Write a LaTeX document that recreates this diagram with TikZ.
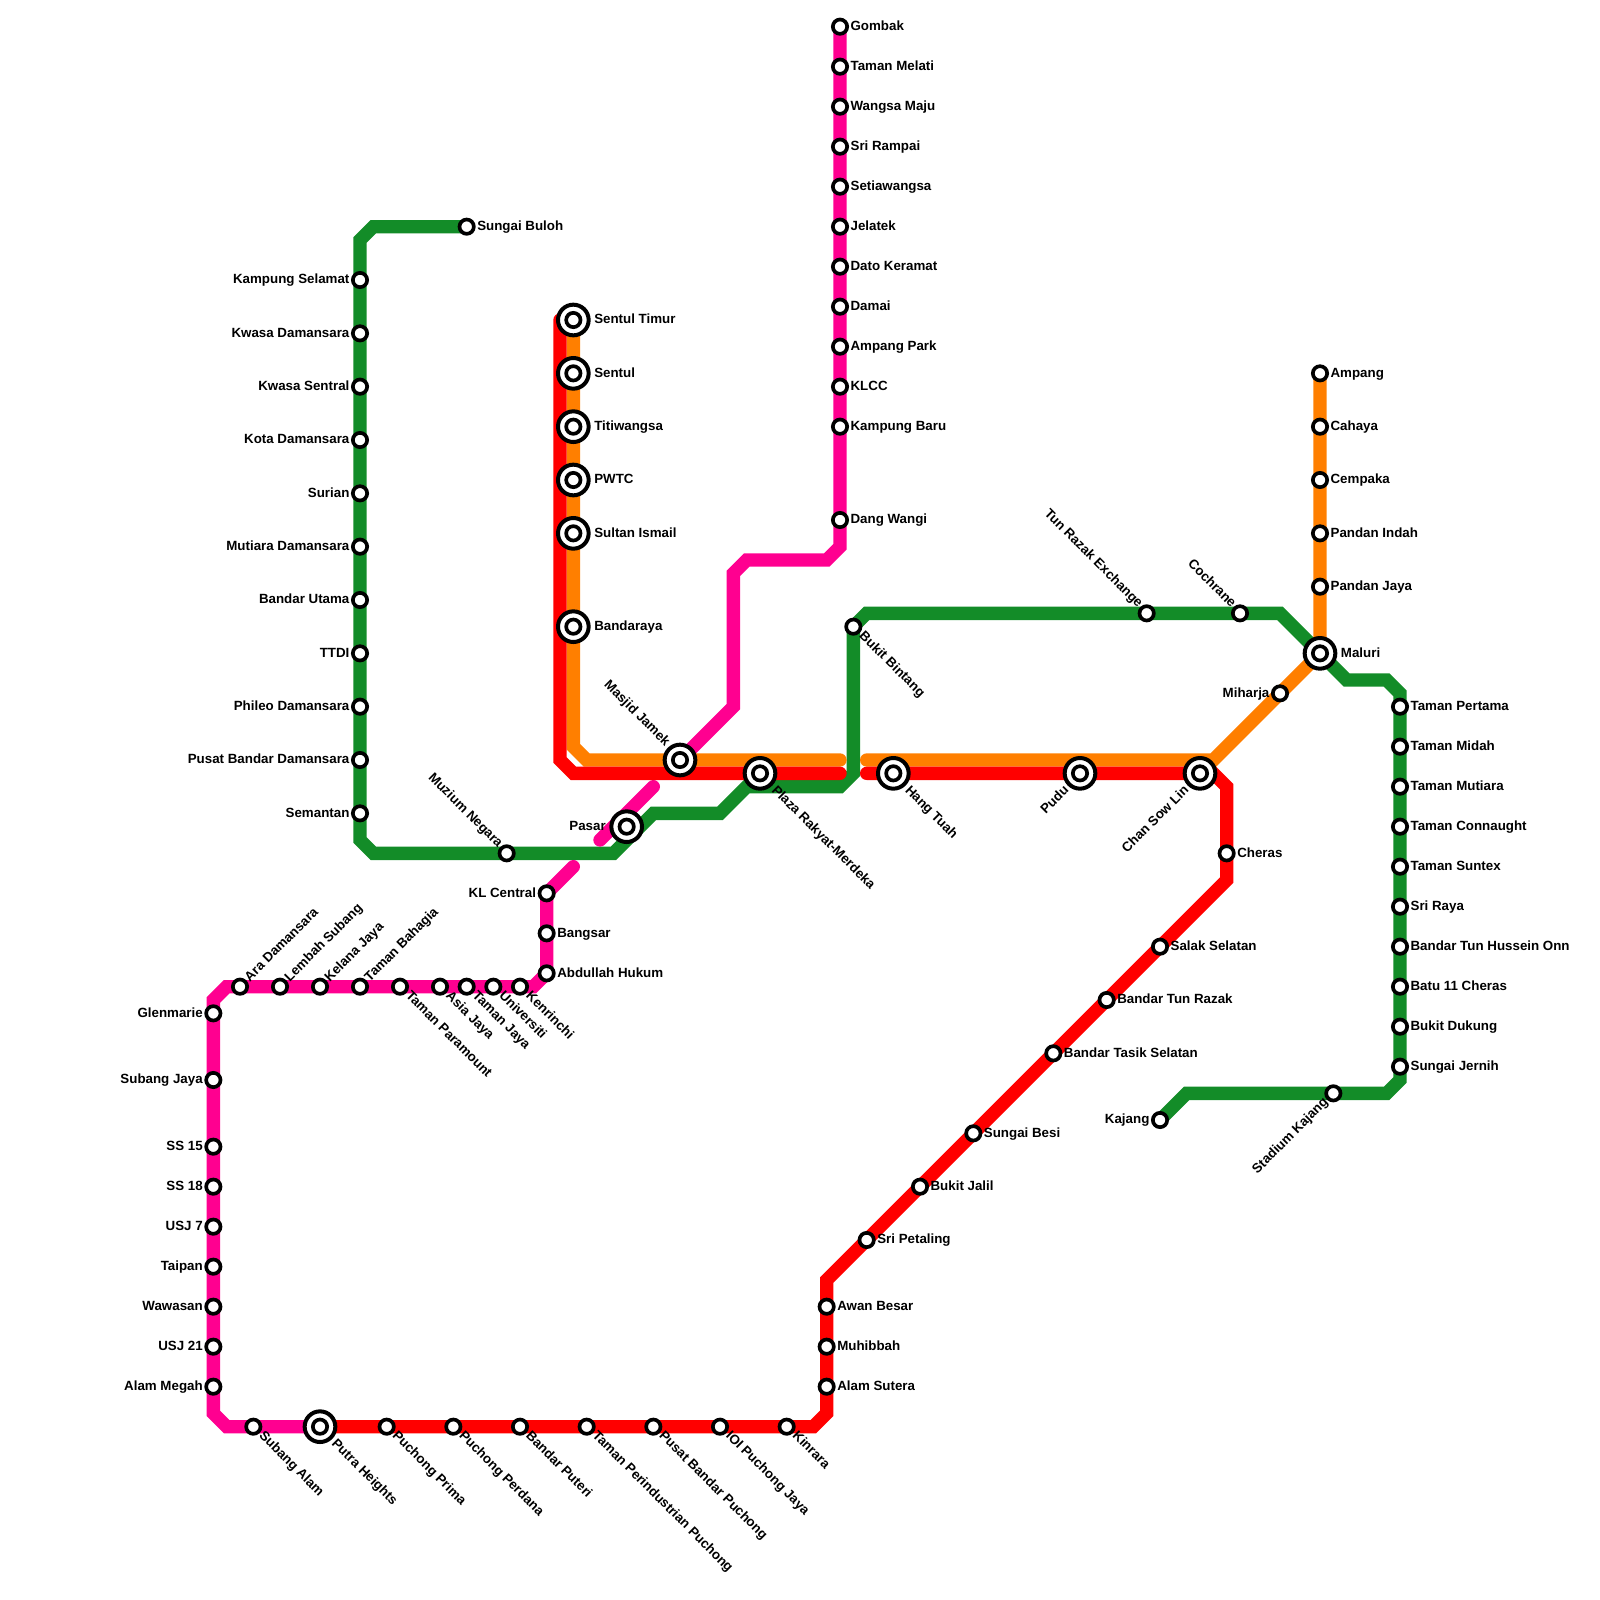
\documentclass[tikz,border=0pt]{standalone}
\usepackage{fontspec}
\setmainfont{Liberation Sans}
\usepackage{xcolor}
\usetikzlibrary{backgrounds}
\definecolor{lnGreen}{HTML}{138C28}
\definecolor{lnMagenta}{HTML}{FF0090}
\definecolor{lnOrange}{HTML}{FF7F00}
\definecolor{lnRed}{HTML}{FF0000}
\begin{document}
\begin{tikzpicture}[
    x=10pt, y=-10pt,
    label distance=1pt,
    line/.style={line width=10pt, line cap=round, miter limit=4},
    stn/.style={circle, draw=black, fill=white, line width=2.75pt, minimum size=10.75pt, inner sep=0pt},
    xstn/.style={circle, draw=black, fill=white, line width=3pt, minimum size=23pt, inner sep=0pt},
    lbl/.style={font=\bfseries\fontsize{10}{11}\selectfont, inner sep=0pt, text height=7pt, text depth=1.5pt},
    lblE/.style={label={[lbl, anchor=west]0:#1}},
    lblW/.style={label={[lbl, anchor=east]180:#1}},
    lblSE/.style={label={[lbl, anchor=west, xshift=1pt, yshift=0.5pt, rotate=-45]-45:#1}},
    lblNE/.style={label={[lbl, anchor=west, xshift=0.5pt, yshift=-0.5pt, rotate=45]45:#1}},
    lblNW/.style={label={[lbl, anchor=east, rotate=-45]135:#1}},
    lblSW/.style={label={[lbl, anchor=east, xshift=-0.5pt, yshift=0.5pt, rotate=45]225:#1}}
]
\useasboundingbox (0,0) rectangle (120,120);

% interchange stations
\begin{scope}[label distance=2.5pt]
\foreach \nm/\px/\py/\lab/\txt in {sentultimur/43/24/lblE/Sentul Timur, sentul/43/28/lblE/Sentul, titiwangsa/43/32/lblE/Titiwangsa,
    pwtc/43/36/lblE/PWTC, sultanismail/43/40/lblE/Sultan Ismail, bandaraya/43/47/lblE/Bandaraya, maluri/99/49/lblE/Maluri,
    masjidjamek/51/57/lblNW/Masjid Jamek, pasar/47/62/lblW/Pasar, plaza/57/58/lblSE/Plaza Rakyat-Merdeka,
    hangtuah/67/58/lblSE/Hang Tuah, pudu/81/58/lblSW/Pudu, chansowlin/90/58/lblSW/Chan Sow Lin, putraheights/24/107/lblSE/Putra Heights} {
    \node[xstn, \lab=\txt] (\nm) at (\px,\py) {};
    \node[stn] (\nm-in) at (\nm) {};
}
\end{scope}

% green line
\node[stn, lblE=Sungai Buloh] (sungaibuloh) at (35,17) {};
\foreach \nm/\py/\txt in {kgselamat/21/Kampung Selamat, kwasadamansara/25/Kwasa Damansara, kwasasentral/29/Kwasa Sentral,
    kotadamansara/33/Kota Damansara, surian/37/Surian, mutiara/41/Mutiara Damansara, bandarutama/45/Bandar Utama,
    ttdi/49/TTDI, phileo/53/Phileo Damansara, pusatbandar/57/Pusat Bandar Damansara, semantan/61/Semantan}
    \node[stn, lblW=\txt] (\nm) at (27,\py) {};
\node[stn, lblNW=Muzium Negara] (muzium) at (38,64) {};
\node[stn, lblSE=Bukit Bintang] (bukitbintang) at (64,47) {};
\node[stn, lblNW=Tun Razak Exchange] (tunrazak) at (86,46) {};
\node[stn, lblNW=Cochrane] (cochrane) at (93,46) {};
\foreach \nm/\py/\txt in {pertama/53/Taman Pertama, midah/56/Taman Midah, mutiaracheras/59/Taman Mutiara, connaught/62/Taman Connaught,
    suntex/65/Taman Suntex, sriraya/68/Sri Raya, hussein/71/Bandar Tun Hussein Onn, batu11/74/Batu 11 Cheras,
    dukung/77/Bukit Dukung, jernih/80/Sungai Jernih}
    \node[stn, lblE=\txt] (\nm) at (105,\py) {};
\node[stn, lblSW=Stadium Kajang] (stadium) at (100,82) {};
\node[stn, lblW=Kajang] (kajang) at (87,84) {};

% magenta line
\foreach \nm/\py/\txt in {gombak/2/Gombak, melati/5/Taman Melati, wangsa/8/Wangsa Maju, rampai/11/Sri Rampai, setiawangsa/14/Setiawangsa,
    jelatek/17/Jelatek, keramat/20/Dato Keramat, damai/23/Damai, ampangpark/26/Ampang Park, klcc/29/KLCC, kgbaru/32/Kampung Baru, dangwangi/39/Dang Wangi}
    \node[stn, lblE=\txt] (\nm) at (63,\py) {};
\node[stn, lblW=KL Central] (klcentral) at (41,67) {};
\node[stn, lblE=Bangsar] (bangsar) at (41,70) {};
\node[stn, lblE=Abdullah Hukum] (abdullah) at (41,73) {};
\foreach \nm/\px/\lab/\txt in {ara/18/lblNE/Ara Damansara, lembah/21/lblNE/Lembah Subang, kelana/24/lblNE/Kelana Jaya, bahagia/27/lblNE/Taman Bahagia,
    paramount/30/lblSE/Taman Paramount, asiajaya/33/lblSE/Asia Jaya, tamanjaya/35/lblSE/Taman Jaya, universiti/37/lblSE/Universiti, kenrinchi/39/lblSE/Kenrinchi}
    \node[stn, \lab=\txt] (\nm) at (\px,74) {};
\foreach \nm/\py/\txt in {glenmarie/76/Glenmarie, subangjaya/81/Subang Jaya, ss15/86/SS 15, ss18/89/SS 18, usj7/92/USJ 7,
    taipan/95/Taipan, wawasan/98/Wawasan, usj21/101/USJ 21, alammegah/104/Alam Megah}
    \node[stn, lblW=\txt] (\nm) at (16,\py) {};
\node[stn, lblSE=Subang Alam] (subangalam) at (19,107) {};

% red line
\foreach \nm/\px/\txt in {prima/29/Puchong Prima, perdana/34/Puchong Perdana, puteri/39/Bandar Puteri, perindustrian/44/Taman Perindustrian Puchong,
    pusatpuchong/49/Pusat Bandar Puchong, ioi/54/IOI Puchong Jaya, kinrara/59/Kinrara}
    \node[stn, lblSE=\txt] (\nm) at (\px,107) {};
\foreach \nm/\px/\py/\txt in {alamsutera/62/104/Alam Sutera, muhibbah/62/101/Muhibbah, awanbesar/62/98/Awan Besar, sripetaling/65/93/Sri Petaling,
    bukitjalil/69/89/Bukit Jalil, sungaibesi/73/85/Sungai Besi, tasikselatan/79/79/Bandar Tasik Selatan, buntunrazak/83/75/Bandar Tun Razak,
    salak/87/71/Salak Selatan, cheras/92/64/Cheras}
    \node[stn, lblE=\txt] (\nm) at (\px,\py) {};

% orange line
\node[stn, lblW=Miharja] (miharja) at (96,52) {};
\foreach \nm/\py/\txt in {ampang/28/Ampang, cahaya/32/Cahaya, cempaka/36/Cempaka, pandanindah/40/Pandan Indah, pandanjaya/44/Pandan Jaya}
    \node[stn, lblE=\txt] (\nm) at (99,\py) {};

% bends and free ends
\foreach \nm/\px/\py in {g1/28/17, g2/27/18, g3/27/63, g4/28/64, g5/46/64, g6/49/61, g7/54/61, g8/56/59, g9/63/59, g10/64/58, g11/65/46, g12/96/46,
    g13/101/51, g14/104/51, g15/105/52, g16/105/81, g17/104/82, g18/89/82,
    m1/63/41, m2/62/42, m3/56/42, m4/55/43, m5/55/53, m6/49/59, m7/45/63, m8/43/65, m9/40/74, m10/17/74, m11/16/75, m12/16/106, m13/17/107,
    o1/43/56, o2/44/57, o3/63/57, o4/65/57, o5/91/57,
    r1/42/24, r2/42/57, r3/43/58, r4/63/58, r5/65/58, r6/91/58, r7/92/59, r8/92/66, r9/62/96, r10/62/106, r11/61/107}
    \coordinate (\nm) at (\px,\py);

\begin{pgfonlayer}{background}
\draw[line, lnGreen] (sungaibuloh.center) -- (g1) -- (g2) -- (g3) -- (g4) -- (g5) -- (g6) -- (g7) -- (g8) -- (g9) -- (g10) -- (bukitbintang.center)
    -- (g11) -- (g12) -- (maluri.center) -- (g13) -- (g14) -- (g15) -- (g16) -- (g17) -- (g18) -- (kajang.center);
\draw[line, lnMagenta] (gombak.center) -- (m1) -- (m2) -- (m3) -- (m4) -- (m5) -- (masjidjamek.center);
\draw[line, lnMagenta] (m6) -- (m7);
\draw[line, lnMagenta] (m8) -- (klcentral.center) -- (abdullah.center) -- (m9) -- (m10) -- (m11) -- (m12) -- (m13) -- (putraheights.center);
\draw[line, lnOrange] (sentultimur.center) -- (o1) -- (o2) -- (o3);
\draw[line, lnOrange] (o4) -- (o5) -- (maluri.center) -- (ampang.center);
\draw[line, lnRed] (r1) -- (r2) -- (r3) -- (r4);
\draw[line, lnRed] (r5) -- (r6) -- (r7) -- (r8) -- (r9) -- (r10) -- (r11) -- (putraheights.center);
\end{pgfonlayer}
\end{tikzpicture}
\end{document}
